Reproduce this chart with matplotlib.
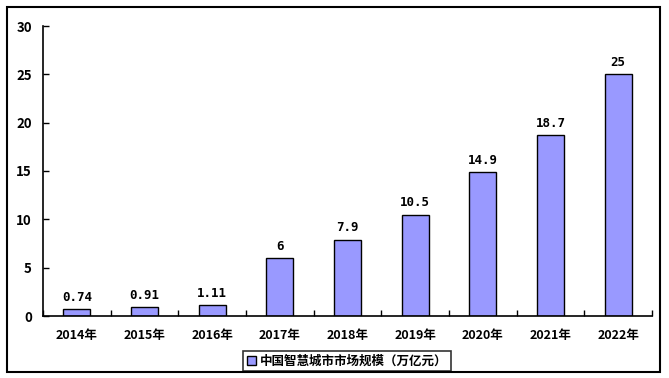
import matplotlib.pyplot as plt
import numpy as np
from matplotlib.patches import Rectangle

plt.rcParams['font.family'] = ['Noto Sans CJK SC', 'DejaVu Sans']

years = ['2014年', '2015年', '2016年', '2017年', '2018年', '2019年', '2020年', '2021年', '2022年']
values = [0.74, 0.91, 1.11, 6, 7.9, 10.5, 14.9, 18.7, 25]
labels = ['0.74', '0.91', '1.11', '6', '7.9', '10.5', '14.9', '18.7', '25']
series_name = '中国智慧城市市场规模（万亿元）'

fig = plt.figure(figsize=(6.69, 3.78), dpi=100)
ax = fig.add_axes([43/669, 1-316/378, (652-43)/669, (316-26)/378])

x = np.arange(len(years))
bars = ax.bar(x, values, width=0.4, color='#9999ff', edgecolor='black', linewidth=1, label=series_name)

for xi, v, lab in zip(x, values, labels):
    ax.text(xi, v + 0.55, lab, ha='center', va='bottom', fontsize=9, fontweight='bold',
            family=['DejaVu Sans Mono'])

ax.set_xlim(-0.5, len(years) - 0.5)
ax.set_ylim(0, 30)
ax.set_yticks([0, 5, 10, 15, 20, 25, 30])
ax.set_xticks(x)
ax.set_xticklabels(years, fontsize=9, fontweight='bold')
ax.set_xticks(np.arange(len(years) + 1) - 0.5, minor=True)
ax.tick_params(axis='x', which='major', length=0, pad=9)
ax.tick_params(axis='x', which='minor', direction='in', length=4, width=1)
ax.tick_params(axis='y', direction='in', length=4, width=1, labelsize=9.5, pad=8)
for t in ax.get_yticklabels():
    t.set_fontweight('bold')

ax.spines['top'].set_visible(False)
ax.spines['right'].set_visible(False)
ax.spines['left'].set_linewidth(1.2)
ax.spines['bottom'].set_linewidth(1.2)

leg = fig.legend(handles=[bars], labels=[series_name], loc='center',
                 bbox_to_anchor=(347/669, 1-361/378), frameon=True,
                 fancybox=False, edgecolor='black', handlelength=0.7, handleheight=0.7,
                 handletextpad=0.3, borderpad=0.3, prop={'weight': 'bold', 'size': 9})
leg.get_frame().set_linewidth(1.2)

fig.patches.append(Rectangle((7/669, 1-372/378), (660-7)/669, (372-7)/378,
                             transform=fig.transFigure, fill=False, edgecolor='black', linewidth=1.5))

fig.savefig('out.png', dpi=100)
